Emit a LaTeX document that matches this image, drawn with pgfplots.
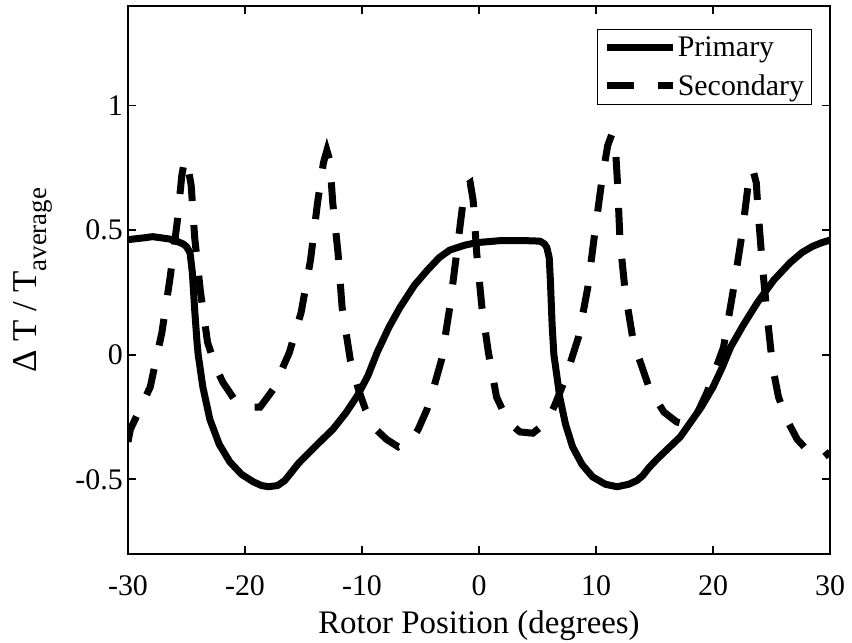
\documentclass[border=0pt]{standalone}
\usepackage{fontspec}
\setmainfont{Liberation Serif}
\usepackage{pgfplots}
\pgfplotsset{compat=1.18}
\begin{document}
\begin{tikzpicture}
\path[use as bounding box] (-128bp,-89bp) rectangle (724bp,554bp);
\begin{axis}[
  at={(0,0)}, anchor=south west,
  scale only axis, width=702bp, height=548bp,
  xmin=-30, xmax=30, ymin=-0.8, ymax=1.4,
  xtick={-30,-20,-10,0,10,20,30},
  xticklabels={-30,-20,-10,0,10,20,30},
  ytick={-0.5,0,0.5,1},
  yticklabels={-0.5,0,0.5,1},
  tick align=inside, major tick length=8bp,
  axis line style={line width=1.6bp},
  every tick/.style={line width=1.6bp, black},
  ticklabel style={font=\fontsize{30}{30}\selectfont},
  xticklabel style={anchor=base, yshift=-41bp},
  yticklabel style={inner xsep=5bp},
  xlabel={Rotor Position (degrees)},
  xlabel style={font=\fontsize{33}{33}\selectfont, at={(axis description cs:0.5,0)}, anchor=base, yshift=-79bp},
  ylabel={Δ T / T\raisebox{-0.3em}{\fontsize{27}{27}\selectfont average}},
  ylabel style={font=\fontsize{35}{35}\selectfont, at={([xshift=-75bp]axis description cs:0,0.5)}, anchor=south, inner sep=0pt},
  legend style={at={(axis description cs:1,1)}, anchor=north east,
    xshift=-18bp, yshift=-23bp, draw=black, line width=1bp,
    font=\fontsize{30}{30}\selectfont, inner xsep=6bp, inner ysep=3bp,
    row sep=9bp, nodes={inner xsep=1.5bp, inner ysep=4bp}},
  legend cell align=left,
  legend image code/.code={\draw[#1, line width=7bp] (0bp,0bp) -- (66bp,0bp);},
]
\addplot[black, line width=7bp, line join=round] coordinates {
(-30,0.462) (-28.5,0.47) (-27.9,0.474) (-26.5,0.465) (-25.8,0.455) (-25.3,0.445) (-25,0.434)
(-24.7,0.41) (-24.5,0.33) (-24.3,0.18) (-24.1,0.05) (-24.0,0.0) (-23.6,-0.13) (-23.0,-0.26)
(-22.2,-0.36) (-21.3,-0.43) (-20.3,-0.48) (-19.3,-0.51) (-18.6,-0.525) (-18.0,-0.53) (-17.2,-0.525)
(-16.6,-0.505) (-16.0,-0.47) (-15.5,-0.44) (-15.2,-0.425) (-13.6,-0.35) (-12.5,-0.30)
(-11.4,-0.235) (-10.4,-0.165) (-9.5,-0.085) (-8.7,0.01) (-7.7,0.11) (-6.75,0.19) (-5.5,0.28) (-4.4,0.34)
(-3.4,0.39) (-2.5,0.42) (-1.2,0.44) (-0.2,0.45) (1.8,0.458) (4,0.458) (5.2,0.456) (5.6,0.445) (5.8,0.43)
(6.0,0.39) (6.1,0.3) (6.25,0.12) (6.4,0.0) (6.7,-0.1) (6.9,-0.17) (7.4,-0.28) (8.0,-0.37) (8.8,-0.44)
(9.7,-0.49) (10.8,-0.52) (11.8,-0.53) (12.8,-0.52) (13.5,-0.505) (14.0,-0.485) (14.5,-0.455)
(15.2,-0.42) (16.2,-0.375) (17.2,-0.33) (17.8,-0.29) (19.0,-0.21) (20.0,-0.13) (20.8,-0.05)
(21.5,0.03) (22.6,0.12) (23.8,0.21) (25.2,0.3) (26.6,0.37) (27.6,0.41) (28.5,0.435) (29.3,0.45) (30,0.46)
};
\addlegendentry{Primary}
\addplot[black, line width=7bp, dash pattern=on 27bp off 24bp] coordinates {
(-30,-0.35) (-29.8,-0.30) (-29,-0.22) (-28.1,-0.13) (-27.1,0.09) (-26.4,0.31) (-25.8,0.53)
(-25.4,0.72) (-25.15,0.785) (-24.9,0.76) (-24.6,0.68) (-24.3,0.47) (-23.8,0.25) (-23.2,0.05)
(-22.5,-0.05) (-21.9,-0.11) (-20.9,-0.18) (-19.8,-0.21) (-18.7,-0.21) (-17.6,-0.14) (-16.2,0.01)
(-15.2,0.17) (-14.4,0.38) (-13.8,0.61) (-13.3,0.77) (-13.0,0.82) (-12.75,0.78) (-12.5,0.61)
(-12.05,0.41) (-11.7,0.19) (-11.0,-0.02) (-10.3,-0.14) (-9.7,-0.22) (-8.8,-0.30) (-7.9,-0.34)
(-6.9,-0.37) (-5.9,-0.35) (-5.2,-0.30) (-4.45,-0.22) (-3.8,-0.12) (-3.2,-0.02) (-2.5,0.19) (-1.9,0.41)
(-1.4,0.60) (-1.05,0.68) (-0.75,0.69) (-0.5,0.62) (-0.2,0.41) (0.25,0.19) (0.8,0.01) (1.5,-0.17)
(2.5,-0.27) (3.5,-0.31) (4.6,-0.315) (5.8,-0.27) (6.5,-0.20) (7.35,-0.10) (8.5,0.07) (9.3,0.27)
(9.9,0.49) (10.5,0.70) (11.0,0.84) (11.35,0.885) (11.65,0.84) (11.85,0.68) (12.05,0.46) (12.5,0.25)
(13.2,0.05) (14.6,-0.14) (15.8,-0.23) (16.9,-0.27) (17.8,-0.28) (18.6,-0.24) (19.5,-0.15)
(20.9,0.03) (21.7,0.25) (22.5,0.49) (23.0,0.68) (23.4,0.745) (23.7,0.69) (23.85,0.58) (24.2,0.37)
(24.6,0.17) (25.1,-0.05) (25.6,-0.17) (26.3,-0.26) (27.2,-0.34) (28.0,-0.38) (28.9,-0.41) (29.5,-0.41) (30,-0.39)
};
\addlegendentry{Secondary}
\end{axis}
\end{tikzpicture}
\end{document}
